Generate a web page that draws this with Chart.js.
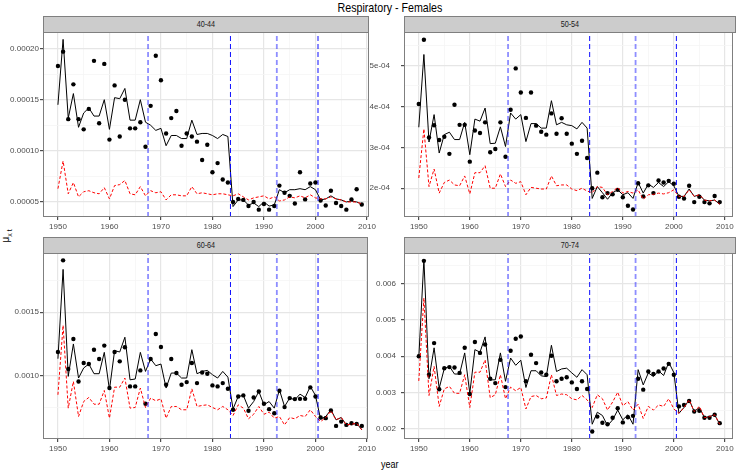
<!DOCTYPE html>
<html>
<head>
<meta charset="utf-8">
<script src="https://cdn.jsdelivr.net/npm/chart.js@4/dist/chart.umd.min.js"></script>
<style>
  body { margin: 0; background: #fff; font-family: "Liberation Sans Narrow", "Liberation Sans", Arial, sans-serif; }
  #wrap { position: relative; width: 737px; height: 472px; overflow: hidden; }
  #wrap canvas { position: absolute; left: 0; top: 0; }
  .strip { position: absolute; background: #cccccc; border: 1px solid #7f7f7f; box-sizing: border-box;
           font-size: 8.5px; color: #1a1a1a; text-align: center; }
  .strip span { display: inline-block; transform: scaleX(0.85); }
  #title { position: absolute; left: 43px; width: 693px; top: 0; text-align: center; font-size: 13px; line-height: 15px; color: #000; }
  #title span, #xlab span { display: inline-block; transform: scaleX(0.82); }
  #xlab { position: absolute; left: 43px; width: 693px; top: 457px; text-align: center; font-size: 11px; line-height: 14px; color: #000; }
  #ylab { position: absolute; left: -12px; top: 228px; width: 40px; text-align: center; font-size: 10px; line-height: 12px;
          transform: rotate(-90deg); color: #000; }
  #ylab sub { font-size: 7px; }
</style>
</head>
<body>
<div id="wrap">
  <div id="title"><span>Respiratory - Females</span></div>
  <div id="xlab"><span>year</span></div>
  <div id="ylab">μ<sub>x t</sub></div>
</div>
<script>
const years = [1950,1951,1952,1953,1954,1955,1956,1957,1958,1959,
               1960,1961,1962,1963,1964,1965,1966,1967,1968,1969,
               1970,1971,1972,1973,1974,1975,1976,1977,1978,1979,
               1980,1981,1982,1983,1984,1985,1986,1987,1988,1989,
               1990,1991,1992,1993,1994,1995,1996,1997,1998,1999,
               2000,2001,2002,2003,2004,2005,2006,2007,2008,2009];

// break years (vertical dashed lines)
const breaks = [1967.5, 1983.5, 1992.5, 2000.5];
const xTicks = [1950, 1960, 1970, 1980, 1990, 2000, 2010];

// 40-44, values x 1e-5
const obs4044 = [18.3,19.7,13.1,16.5,13.1,12.1,14.1,18.8,12.7,18.5,11.1,16.4,11.4,15.0,12.2,12.2,12.8,10.4,14.4,19.3,
                 16.9,11.7,13.2,13.9,10.5,11.7,11.4,10.9,9.1,10.6,7.9,8.8,7.2,6.9,5.0,5.3,5.2,4.6,5.0,4.25,
                 4.8,4.25,4.6,6.6,5.9,5.6,4.85,7.9,5.25,6.8,6.9,5.15,4.65,6.1,4.9,4.6,4.25,5.25,6.25,4.75];
const fit4044 = [14.5,20.9,13.2,15.6,12.3,13.7,14.2,13.4,13.4,15.0,12.1,15.2,15.1,16.1,13.0,13.0,15.0,12.8,12.5,12.0,
                 12.2,10.5,11.5,11.5,11.2,11.2,13.0,11.6,11.7,11.7,11.5,11.2,11.6,11.4,4.55,5.2,5.2,4.7,4.9,4.55,
                 5.0,4.6,4.7,6.2,5.9,6.2,6.2,6.3,6.2,6.5,6.2,5.2,5.3,5.6,5.3,5.2,5.0,5.1,5.0,4.8];
const base4044 = [6.3,9.0,5.8,6.9,5.5,6.0,6.1,5.9,5.8,6.4,5.3,6.6,6.7,7.1,5.8,5.7,6.5,5.6,6.1,5.9,
                  6.0,5.2,5.7,5.7,5.6,5.6,6.5,5.8,5.9,5.8,5.7,5.8,5.8,5.7,5.6,5.8,5.5,5.2,5.4,5.5,
                  5.6,5.3,5.5,5.1,5.2,5.5,5.4,5.6,5.4,5.7,5.4,5.3,5.3,5.5,5.3,5.2,5.0,5.0,5.0,4.8];
const yTicks4044 = [0.00005, 0.00010, 0.00015, 0.00020];

// 50-54, values x 1e-4
const obs5054 = [4.06,5.63,3.24,3.54,3.18,3.26,2.84,4.04,3.55,3.55,2.65,3.41,3.35,3.61,2.88,2.96,3.61,2.77,3.92,4.93,
                 4.34,3.72,4.34,3.53,3.38,3.31,3.83,3.33,3.71,3.33,3.09,2.84,3.16,2.74,2.0,2.38,1.78,1.88,1.85,1.96,
                 1.78,1.57,1.48,2.12,1.80,2.07,1.88,2.19,2.14,2.18,2.11,1.79,1.75,2.06,1.66,1.79,1.66,1.63,1.81,1.66];
const fit5054 = [3.49,5.27,3.13,3.80,2.86,3.31,3.37,3.19,3.19,3.61,2.82,3.69,3.64,3.96,3.09,3.10,3.50,3.02,3.84,3.69,
                 3.80,3.14,3.58,3.58,3.47,3.47,4.14,3.55,3.61,3.55,3.53,3.45,3.61,3.47,1.75,2.04,1.89,1.73,1.89,1.96,
                 1.84,1.89,1.75,2.14,1.88,2.10,2.02,2.14,2.04,2.16,2.06,1.80,1.80,1.98,1.80,1.84,1.71,1.69,1.71,1.61];
const base5054 = [2.25,3.45,2.04,2.47,1.88,2.14,2.20,2.08,2.06,2.30,1.86,2.38,2.38,2.55,2.0,2.0,2.35,2.04,2.20,2.12,
                  2.16,1.84,2.02,2.0,1.98,1.98,2.30,2.06,2.08,2.08,1.98,1.94,2.0,1.93,1.89,2.04,2.02,1.84,1.92,2.02,
                  1.88,1.92,1.88,1.96,1.73,1.84,1.85,1.88,1.86,1.89,1.96,1.80,1.80,1.96,1.80,1.84,1.71,1.69,1.71,1.61];
const yTicks5054 = [0.0002, 0.0003, 0.0004, 0.0005];

// 60-64, values x 1e-4
const obs6064 = [11.87,19.08,10.53,12.89,9.55,11.0,10.92,12.05,11.32,12.37,9.03,11.87,11.13,12.24,9.16,9.16,10.42,7.79,11.32,13.29,
                 12.26,9.29,11.32,10.21,9.29,9.5,11.0,9.42,10.26,10.16,9.24,9.16,9.42,8.97,7.32,8.37,8.45,7.24,8.29,8.76,
                 7.79,7.37,7.05,8.82,7.53,8.24,8.16,8.18,8.18,9.08,8.37,6.71,6.66,7.26,6.05,6.39,6.13,6.26,6.21,6.05];
const fit6064 = [11.34,18.37,9.95,12.5,9.82,10.61,10.92,10.16,10.16,11.84,8.89,11.97,11.87,13.03,9.68,9.74,11.84,10.34,11.32,10.79,
                 10.92,9.03,10.21,10.21,9.82,9.82,12.05,10.16,10.34,10.42,10.08,9.82,10.34,9.89,7.39,8.37,8.45,7.45,7.97,8.76,
                 7.71,7.97,7.45,8.89,7.58,8.24,8.11,8.55,8.29,9.16,8.45,6.58,6.79,7.32,6.53,6.71,6.13,6.18,6.26,5.74];
const base6064 = [8.5,13.97,7.45,9.55,6.79,7.97,8.29,7.76,7.76,8.84,6.66,9.1,9.1,9.82,7.45,7.5,9.03,7.5,8.24,8.03,
                  8.18,6.66,7.58,7.58,7.32,7.32,8.97,7.58,7.66,7.71,7.5,7.32,7.58,7.32,6.87,7.71,7.45,6.61,6.97,7.58,
                  6.97,7.13,6.66,6.79,6.13,6.71,6.61,6.87,6.79,7.32,6.79,6.39,6.71,7.24,6.53,6.71,6.13,6.18,6.26,5.74];
const yTicks6064 = [0.0010, 0.0015];

// 70-74, values x 1e-3
const obs7074 = [4.0,6.62,3.49,4.36,3.09,3.67,3.70,3.69,3.54,4.23,2.96,4.39,4.09,4.32,3.38,3.26,3.90,3.15,4.15,4.48,
                 4.54,3.31,4.04,3.81,3.55,3.49,4.01,3.31,3.38,3.42,3.28,3.10,3.31,3.10,1.93,2.34,2.17,2.13,2.31,2.57,
                 2.18,2.32,2.36,3.38,3.08,3.58,3.51,3.58,3.66,3.79,3.49,2.62,2.66,2.77,2.48,2.50,2.31,2.31,2.39,2.16];
const fit7074 = [3.95,6.66,3.38,4.23,3.12,3.66,3.72,3.51,3.51,4.09,2.98,4.18,4.11,4.53,3.35,3.35,4.09,3.31,3.95,3.75,
                 3.89,3.14,3.60,3.60,3.46,3.44,4.30,3.58,3.65,3.67,3.54,3.42,3.63,3.49,2.13,2.46,2.37,2.09,2.25,2.52,
                 2.25,2.39,2.13,3.63,3.21,3.54,3.44,3.60,3.47,3.83,3.55,2.43,2.59,2.80,2.48,2.59,2.31,2.34,2.39,2.13];
const base7074 = [3.32,5.6,2.92,3.72,2.62,3.10,3.17,2.98,2.98,3.49,2.59,3.56,3.56,3.90,2.86,2.94,3.49,2.83,3.15,3.05,
                  3.14,2.55,2.89,2.92,2.83,2.85,3.49,2.92,2.96,2.94,2.83,2.80,2.92,2.80,2.59,2.94,2.83,2.52,2.74,3.01,
                  2.64,2.75,2.52,2.68,2.29,2.62,2.52,2.66,2.62,2.83,2.55,2.43,2.59,2.80,2.48,2.62,2.31,2.34,2.39,2.13];
const yTicks7074 = [0.002, 0.003, 0.004, 0.005, 0.006];

const panels = [
  { label: '40-44', unit: 1e-5, obs: obs4044, fit: fit4044, base: base4044, yTicks: yTicks4044,
    fmt: v => v.toFixed(5), yRange: [0.0000353, 0.0002162], xRange: [1947.1, 2010.4],
    box: { l: 43, t: 32, r: 369, b: 217 }, labPad: 1 },
  { label: '50-54', unit: 1e-4, obs: obs5054, fit: fit5054, base: base5054, yTicks: yTicks5054,
    fmt: v => v.toExponential(0).replace('e-4', 'e-04'), yRange: [0.0001296, 0.000582], xRange: [1947.1, 2011.6],
    box: { l: 404, t: 32, r: 736, b: 217 }, labPad: 11 },
  { label: '60-64', unit: 1e-4, obs: obs6064, fit: fit6064, base: base6064, yTicks: yTicks6064,
    fmt: v => v.toFixed(4), yRange: [0.000502, 0.001966], xRange: [1947.1, 2010.2],
    box: { l: 43, t: 253, r: 368, b: 439 }, labPad: 1 },
  { label: '70-74', unit: 1e-3, obs: obs7074, fit: fit7074, base: base7074, yTicks: yTicks7074,
    fmt: v => v.toFixed(3), yRange: [0.001724, 0.006836], xRange: [1947.1, 2011.6],
    box: { l: 404, t: 253, r: 736, b: 439 }, labPad: 5 }
];

const W = 737, H = 472;
const tickFont = { family: '"Liberation Sans Narrow", "Liberation Sans", Arial, sans-serif', size: 8 };

// major ticks plus the halfway minor ticks
const withMinor = (major, lo, hi) => {
  const step = major[1] - major[0];
  const all = [];
  for (let v = major[0] - step; v <= major[major.length - 1] + step + 1e-12; v += step / 2) {
    const isMajor = major.some(m => Math.abs(m - v) < step * 1e-6);
    if (v >= lo - 1e-12 && v <= hi + 1e-12) all.push({ value: v, mj: isMajor });
  }
  return all;
};

const panelBorder = {
  id: 'panelBorder',
  afterDraw(chart) {
    const a = chart.chartArea, ctx = chart.ctx;
    ctx.save();
    ctx.strokeStyle = '#7f7f7f';
    ctx.lineWidth = 1;
    ctx.strokeRect(a.left + 0.5, a.top + 0.5, a.right - a.left - 1, a.bottom - a.top - 1);
    ctx.restore();
  }
};

const wrap = document.getElementById('wrap');

panels.forEach(p => {
  // strip
  const s = document.createElement('div');
  s.className = 'strip';
  s.style.left = p.box.l + 'px';
  s.style.width = (p.box.r - p.box.l) + 'px';
  s.style.top = (p.box.t - 16) + 'px';
  s.style.height = '17px';
  s.style.lineHeight = '15px';
  const sp = document.createElement('span');
  sp.textContent = p.label;
  s.appendChild(sp);
  wrap.appendChild(s);

  const canvas = document.createElement('canvas');
  canvas.width = W; canvas.height = H;
  wrap.appendChild(canvas);

  const yW = 40, xH = 20;
  const vlines = breaks.map((b, i) => ({
    type: 'line',
    data: [{ x: b, y: p.yRange[0] }, { x: b, y: p.yRange[1] }],
    borderColor: (i === 1 || i === 3) ? 'rgba(0,0,255,0.95)' : 'rgba(50,50,255,0.55)',
    borderWidth: (i === 1 || i === 3) ? 1 : 1.8,
    borderDash: [5, 3],
    pointRadius: 0,
    order: 0
  }));

  new Chart(canvas, {
    type: 'line',
    data: {
      datasets: [
        ...vlines,
        {
          data: years.map((y, i) => ({ x: y, y: p.base[i] * p.unit })),
          borderColor: '#ff0000', borderWidth: 1, borderDash: [3, 2],
          pointRadius: 0, tension: 0, order: 1
        },
        {
          data: years.map((y, i) => ({ x: y, y: p.fit[i] * p.unit })),
          borderColor: '#000', borderWidth: 1,
          pointRadius: 0, tension: 0, order: 2
        },
        {
          data: years.map((y, i) => ({ x: y, y: p.obs[i] * p.unit })),
          showLine: false, pointRadius: 2.2, pointBackgroundColor: '#000',
          pointBorderWidth: 0, pointStyle: 'circle', order: 3
        }
      ]
    },
    options: {
      responsive: false,
      animation: false,
      events: [],
      layout: {
        padding: { left: p.box.l - yW, top: p.box.t, right: W - p.box.r, bottom: H - p.box.b - xH }
      },
      plugins: { legend: { display: false }, tooltip: { enabled: false } },
      scales: {
        x: {
          type: 'linear', min: p.xRange[0], max: p.xRange[1],
          afterBuildTicks: sc => { sc.ticks = withMinor(xTicks, p.xRange[0], p.xRange[1]); },
          afterFit: sc => { sc.height = xH; sc.paddingLeft = 0; sc.paddingRight = 0; },
          ticks: {
            autoSkip: false, maxRotation: 0, padding: 2, color: '#4d4d4d', font: tickFont,
            callback: (v, i, t) => t[i].mj ? String(Math.round(v)) : ''
          },
          grid: {
            color: c => c.tick && c.tick.mj ? '#e6e6e6' : '#f5f5f5',
            lineWidth: c => c.tick && c.tick.mj ? 1.2 : 0.8,
            tickColor: c => c.tick && c.tick.mj ? '#4d4d4d' : 'rgba(0,0,0,0)',
            tickLength: 3
          },
          border: { display: false }
        },
        y: {
          type: 'linear', min: p.yRange[0], max: p.yRange[1],
          afterBuildTicks: sc => { sc.ticks = withMinor(p.yTicks, p.yRange[0], p.yRange[1]); },
          afterFit: sc => { sc.width = yW; sc.paddingTop = 0; sc.paddingBottom = 0; },
          ticks: {
            autoSkip: false, padding: p.labPad, color: '#4d4d4d', font: tickFont,
            callback: (v, i, t) => t[i].mj ? p.fmt(v) : ''
          },
          grid: {
            color: c => c.tick && c.tick.mj ? '#e6e6e6' : '#f5f5f5',
            lineWidth: c => c.tick && c.tick.mj ? 1.2 : 0.8,
            tickColor: c => c.tick && c.tick.mj ? '#4d4d4d' : 'rgba(0,0,0,0)',
            tickLength: 3
          },
          border: { display: false }
        }
      }
    },
    plugins: [panelBorder]
  });
});
</script>
</body>
</html>
